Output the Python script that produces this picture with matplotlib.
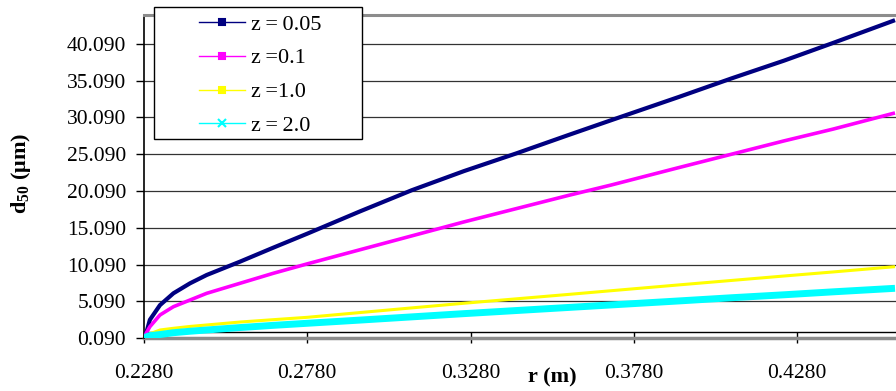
import matplotlib
matplotlib.use('Agg')
import matplotlib.pyplot as plt
from matplotlib.lines import Line2D
from matplotlib.patches import Rectangle

plt.rcParams['font.family'] = 'Liberation Serif'
plt.rcParams['mathtext.fontset'] = 'custom'
plt.rcParams['mathtext.rm'] = 'Liberation Serif'
plt.rcParams['mathtext.bf'] = 'Liberation Serif:bold'

r = [0.228, 0.2288, 0.2298, 0.2329, 0.237, 0.2421, 0.2472, 0.2574, 0.2676, 0.278,
     0.294, 0.310, 0.326, 0.342, 0.358, 0.371, 0.392, 0.408, 0.424, 0.439, 0.458]

# d50 (um) for each z
d_z005 = [0.09, 1.0, 2.6, 4.6, 6.2, 7.56, 8.69, 10.5, 12.4, 14.3,
          17.3, 20.2, 22.8, 25.2, 27.7, 29.7, 32.9, 35.4, 37.8, 40.2, 43.3]
d_z01 = [0.09, 0.9, 1.67, 3.26, 4.38, 5.29, 6.2, 7.56, 8.92, 10.2,
         12.1, 14.0, 15.9, 17.7, 19.5, 20.9, 23.3, 25.1, 26.9, 28.5, 30.7]
d_z10 = [0.09, 0.4, 0.7, 1.22, 1.45, 1.7, 1.9, 2.3, 2.62, 2.94,
         3.58, 4.22, 4.85, 5.45, 6.05, 6.55, 7.35, 7.95, 8.55, 9.1, 9.82]
d_z20 = [0.09, 0.3, 0.45, 0.6, 0.85, 1.05, 1.22, 1.55, 1.85, 2.13,
         2.56, 3.0, 3.44, 3.86, 4.28, 4.62, 5.17, 5.6, 6.0, 6.4, 6.88]

labels = ['z\u2009=\u20090.05', 'z\u2009=0.1', 'z\u2009=1.0', 'z\u2009=\u20092.0']
colors = ['#000080', '#FF00FF', '#FFFF00', '#00FFFF']
widths = [3.0, 2.6, 2.2, 5.0]
markers = ['s', 's', 's', 'x']

y_ticks = [0.09 + 5 * i for i in range(9)]
x_ticks = [0.228, 0.278, 0.328, 0.378, 0.428]

fig = plt.figure(figsize=(8.96, 3.91), dpi=100)
ax = fig.add_axes([144 / 896, 1 - 338.3 / 391, 1 - 144 / 896, (338.3 - 15) / 391])

for vals, c, w in zip([d_z005, d_z01, d_z10, d_z20], colors, widths):
    ax.plot(r, vals, color=c, linewidth=w, solid_capstyle='butt', zorder=3)

ax.set_xlim(0.228, 0.4583)
ax.set_ylim(0.09, 44.0)

ax.set_yticks(y_ticks)
ax.set_yticklabels([f"{t:.3f}" for t in y_ticks])
ax.set_xticks(x_ticks)
ax.set_xticklabels([f"{t:.4f}" for t in x_ticks])
ax.tick_params(axis='y', direction='out', length=6, width=1, pad=7, labelsize=15.5)
ax.tick_params(axis='x', direction='out', length=8, width=1, pad=14.5, labelsize=15.5)

for t in y_ticks[1:]:
    ax.axhline(t, color='#333333', linewidth=0.9, zorder=1)

ax.spines['right'].set_visible(False)
ax.spines['top'].set_color('#8c8c8c')
ax.spines['top'].set_linewidth(2.2)
ax.spines['left'].set_linewidth(1.2)
ax.spines['bottom'].set_position(('data', 0.9))
ax.spines['bottom'].set_linewidth(1.0)
ax.axhline(0.09, color='#8c8c8c', linewidth=2.5, zorder=2, clip_on=False)

ax.set_ylabel(r'd$_{\mathbf{50}}$ (μm)', fontsize=16, fontweight='bold')
ax.yaxis.set_label_coords(-0.148, 0.51)
fig.text(552 / 896, 1 - 377 / 391, 'r (m)', ha='center', va='center',
         fontsize=16, fontweight='bold')

# legend box
box = Rectangle((154 / 896, 1 - 139 / 391), 208 / 896, 132 / 391,
                transform=fig.transFigure, facecolor='white', edgecolor='black',
                linewidth=1.0, zorder=5)
fig.add_artist(box)

handles = []
for c, m in zip(colors, markers):
    handles.append(Line2D([], [], color=c, linewidth=1.0, marker=m,
                          markersize=4 if m == 's' else 6, markeredgewidth=1.5))
leg = fig.legend(handles, labels, loc='upper left',
                 bbox_to_anchor=(199 / 896, 1 - 14 / 391),
                 bbox_transform=fig.transFigure, frameon=False,
                 fontsize=16, handlelength=2.05, handletextpad=0.3,
                 labelspacing=0.6, borderpad=0, borderaxespad=0)
leg.set_zorder(6)

plt.savefig('out.png', dpi=100)
plt.close()
